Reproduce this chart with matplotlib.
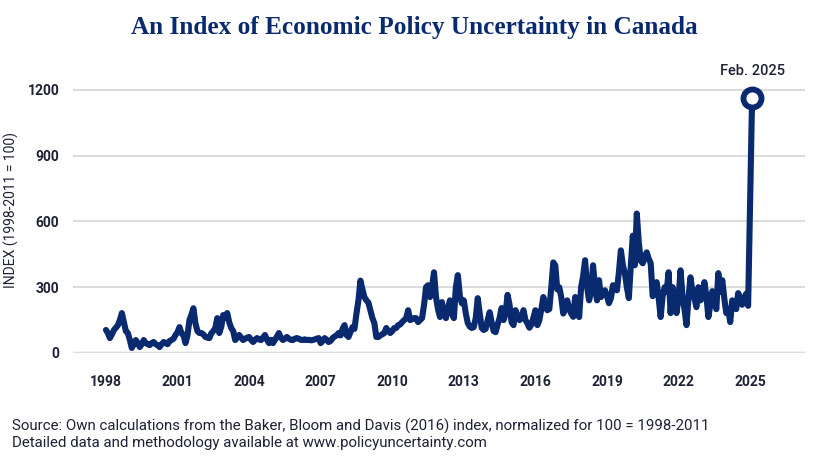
import numpy as np
import matplotlib
matplotlib.use("Agg")
import matplotlib.pyplot as plt

# monthly index values (1998-2011 = 100), Jan 1998 .. Feb 2025
idx_1998_2003 = [105, 90, 68, 85, 105, 115, 127, 150, 182, 140, 100, 91,
                 60, 23, 40, 59, 45, 27, 40, 59, 45, 40, 36, 45,
                 50, 40, 35, 27, 40, 50, 45, 40, 55, 59, 65, 82,
                 95, 118, 90, 82, 45, 80, 150, 175, 204, 136, 100, 91,
                 91, 85, 73, 70, 68, 90, 100, 114, 159, 91, 120, 173,
                 160, 182, 140, 114, 100, 59, 70, 82, 70, 59, 65, 70]
idx_2004_2009 = [73, 60, 50, 60, 68, 62, 59, 70, 82, 60, 45, 60,
                 45, 60, 75, 91, 70, 59, 65, 73, 65, 60, 59, 65,
                 68, 65, 60, 59, 62, 59, 60, 58, 59, 62, 65, 68,
                 45, 55, 68, 60, 50, 55, 68, 75, 80, 91, 80, 110,
                 127, 82, 73, 95, 118, 110, 180, 240, 330, 290, 255, 240,
                 230, 195, 160, 136, 73, 73, 80, 85, 91, 114, 100, 91]
idx_2010_2015 = [100, 114, 114, 127, 130, 141, 150, 159, 195, 150, 155, 159,
                 159, 141, 150, 159, 220, 300, 309, 255, 300, 368, 255, 200,
                 164, 232, 180, 159, 200, 240, 180, 159, 300, 355, 260, 227,
                 240, 180, 136, 120, 114, 118, 160, 250, 180, 114, 105, 110,
                 150, 186, 140, 100, 95, 130, 160, 205, 150, 180, 265, 220,
                 140, 127, 195, 170, 150, 160, 195, 150, 135, 115, 130, 160]
idx_2016_2021 = [195, 127, 150, 200, 255, 220, 195, 200, 300, 413, 400, 290,
                 300, 255, 180, 200, 240, 200, 180, 165, 255, 183, 164, 300,
                 350, 423, 300, 240, 280, 400, 300, 240, 332, 255, 270, 286,
                 260, 227, 250, 309, 290, 286, 368, 468, 400, 364, 300, 250,
                 400, 535, 400, 636, 505, 420, 409, 440, 459, 430, 409, 259,
                 290, 323, 250, 164, 259, 300, 280, 368, 182, 300, 230, 182]
idx_2022_2025 = [250, 377, 260, 200, 127, 250, 345, 280, 250, 209, 300, 240,
                 250, 323, 260, 164, 220, 282, 250, 200, 364, 280, 332, 250,
                 182, 200, 141, 240, 227, 200, 273, 250, 220, 250, 270, 215,
                 700, 1165]

year_ticks = [1998, 2001, 2004, 2007, 2010, 2013, 2016, 2019, 2022, 2025]
y_ticks = [0, 300, 600, 900, 1200]

values = idx_1998_2003 + idx_2004_2009 + idx_2010_2015 + idx_2016_2021 + idx_2022_2025
x = 1998 + np.arange(len(values)) / 12

navy = "#0a2a70"
text_col = "#1d2235"
sans = ["Roboto", "DejaVu Sans"]

fig = plt.figure(figsize=(8.16, 4.65), dpi=100)
ax = fig.add_axes([0.0895, 0.2409, 0.897, 0.613])

ax.plot(x, values, color=navy, lw=4.4, solid_joinstyle="round", solid_capstyle="round", zorder=3)
ax.plot(x[-1], values[-1], "o", ms=13, mfc="white", mec=navy, mew=4.2, zorder=4)
ax.annotate("Feb. 2025", (x[-1], values[-1]), xytext=(0, 14), textcoords="offset points",
            ha="center", va="bottom", fontsize=10.5, fontweight="medium",
            color=text_col, family=sans)

ax.set_xlim(1996.62, 2027.3)
ax.set_ylim(0, 1300)
ax.set_xticks(year_ticks)
ax.set_yticks(y_ticks)
ax.grid(axis="y", color="#dcdcdc", lw=1.5, zorder=0)
ax.axhline(0, color="#d2d2d2", lw=2.5, zorder=1)
for s in ax.spines.values():
    s.set_visible(False)
ax.tick_params(length=0, pad=10, labelsize=10, labelcolor=text_col)
ax.tick_params(axis="x", pad=16)
for lab in ax.get_xticklabels() + ax.get_yticklabels():
    lab.set_fontweight("semibold")
    lab.set_family(sans)

ax.set_ylabel("INDEX (1998-2011 = 100)", fontsize=10, color=text_col, family=sans, labelpad=6)

fig.text(0.508, 0.94, "An Index of Economic Policy Uncertainty in Canada", ha="center", va="center",
         fontsize=18.2, fontweight="bold", color=navy, family="Liberation Serif")
fig.text(0.015, 0.083, "Source: Own calculations from the Baker, Bloom and Davis (2016) index, normalized for 100 = 1998-2011",
         fontsize=10.8, color=text_col, family=sans, va="center")
fig.text(0.015, 0.048, "Detailed data and methodology available at www.policyuncertainty.com",
         fontsize=10.8, color=text_col, family=sans, va="center")

fig.savefig("out.png", dpi=100)
